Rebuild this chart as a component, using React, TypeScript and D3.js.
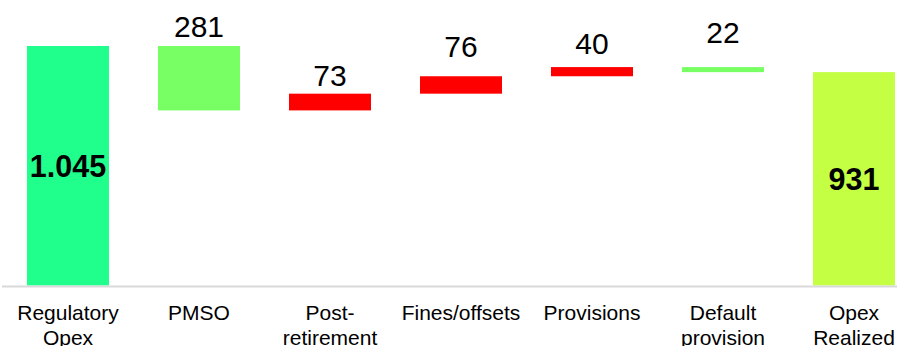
import React from "react";
import * as d3 from "d3";

// ---- data ----
const categories = ["Regulatory Opex", "PMSO", "Post-retirement", "Fines/offsets", "Provisions", "Default provision", "Opex Realized"];
const categoryLines = [["Regulatory", "Opex"], ["PMSO"], ["Post-", "retirement"], ["Fines/offsets"], ["Provisions"], ["Default", "provision"], ["Opex", "Realized"]];
const values = [1045, -281, 73, 76, 40, -22, 931];
const kinds = ["total", "delta", "delta", "delta", "delta", "delta", "total"];
const valueLabels = ["1.045", "281", "73", "76", "40", "22", "931"];

// ---- style ----
const W = 897;
const H = 346;
const totalColors = ["#20FF8C", "#C4FF44"];
const decreaseColor = "#77FF64";
const increaseColor = "#FF0000";
const labelLift = [0, 8.7, 7.7, 18.9, 12.8, 24.4, 0];
const FONT = "Arial, 'Liberation Sans', sans-serif";

export default function App() {
  // compute waterfall segments
  let running = 0;
  let totalIdx = 0;
  const segs = values.map((v, i) => {
    if (kinds[i] === "total") {
      running = v;
      const c = totalColors[totalIdx++ % totalColors.length];
      return { lo: 0, hi: v, color: c, total: true };
    }
    const start = running;
    const end = running + v;
    running = end;
    return { lo: Math.min(start, end), hi: Math.max(start, end), color: v < 0 ? decreaseColor : increaseColor, total: false };
  });

  const x = d3.scaleBand<string>().domain(categories).range([2.5, 2.5 + 7 * 131]).paddingInner(0.374).paddingOuter(0.187);
  const y = d3.scaleLinear().domain([0, 1045]).range([285.5, 46]);

  return (
    <svg width={W} height={H} style={{ position: "absolute", left: 0, top: 0, background: "#fff" }} fontFamily={FONT}>
      {segs.map((s, i) => (
        <rect key={"b" + i} x={x(categories[i])} width={x.bandwidth()} y={y(s.hi)} height={y(s.lo) - y(s.hi)} fill={s.color} />
      ))}
      <line x1={2} x2={W} y1={286.5} y2={286.5} stroke="#d9d9d9" strokeWidth={2} />
      {segs.map((s, i) => {
        const cx = (x(categories[i]) as number) + x.bandwidth() / 2;
        if (s.total) {
          const mid = (y(s.hi) + y(s.lo)) / 2;
          return (
            <text key={"v" + i} x={cx} y={mid + 10.8} textAnchor="middle" fontSize={30.5} fontWeight="bold" fill="#000">
              {valueLabels[i]}
            </text>
          );
        }
        return (
          <text key={"v" + i} x={cx} y={y(s.hi) - labelLift[i]} textAnchor="middle" fontSize={30} fill="#000">
            {valueLabels[i]}
          </text>
        );
      })}
      {categoryLines.map((lines, i) => {
        const cx = (x(categories[i]) as number) + x.bandwidth() / 2;
        return (
          <text key={"c" + i} x={cx} y={319.5} textAnchor="middle" fontSize={21} fill="#000">
            {lines.map((l, j) => (
              <tspan key={j} x={cx} dy={j === 0 ? 0 : 25.2}>{l}</tspan>
            ))}
          </text>
        );
      })}
    </svg>
  );
}
